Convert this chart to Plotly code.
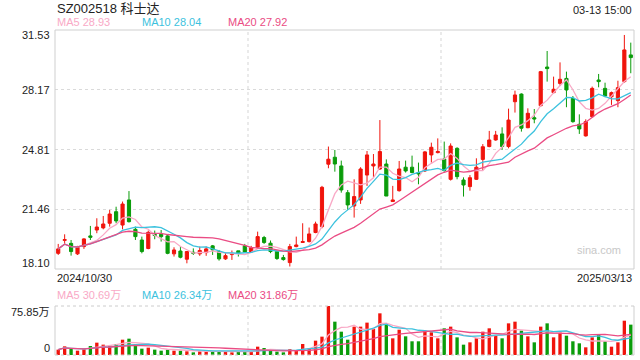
import pandas as pd
import plotly.graph_objects as go

# ---------------- data ----------------
holidays = ["2025-01-01", "2025-01-28", "2025-01-29", "2025-01-30",
            "2025-01-31", "2025-02-03", "2025-02-04"]
_days = pd.bdate_range("2024-10-30", "2025-03-13")
dates = [d.strftime("%Y/%m/%d") for d in _days if d.strftime("%Y-%m-%d") not in holidays]

opens = [18.98, 19.71, 19.54, 18.95, 19.36, 19.96, 20.29, 20.41, 20.67, 21.32,
         20.57, 21.98, 20.33, 19.73, 19.25, 20.05, 20.05, 19.96, 18.95, 19.11,
         18.65, 19.04, 18.95, 19.02, 19.40, 19.08, 18.67, 18.91, 19.12, 19.40,
         19.06, 19.32, 19.87, 19.55, 19.08, 18.74, 18.46, 19.36, 19.59, 19.64,
         20.15, 20.48, 23.99, 24.38, 23.89, 22.39, 21.64, 21.98, 23.38, 23.89,
         23.72, 24.00, 21.89, 22.50, 23.82, 23.82, 23.52, 23.61, 24.51, 24.64,
         24.28, 23.14, 24.88, 23.10, 22.73, 23.14, 24.26, 24.98, 25.35, 25.69,
         24.98, 27.50, 27.93, 26.04, 26.60, 27.28, 29.45, 28.01, 28.53, 28.81,
         27.69, 26.23, 25.58, 26.66, 28.72, 28.25, 27.78, 27.56, 28.63, 30.13]

closes = [19.23, 19.75, 19.08, 19.32, 19.79, 19.88, 20.46, 20.63, 21.19, 20.80,
          21.75, 20.76, 19.92, 19.08, 20.16, 19.98, 19.92, 18.98, 19.17, 18.76,
          19.08, 18.98, 19.14, 19.23, 19.17, 18.67, 18.85, 18.97, 18.99, 19.06,
          19.30, 19.92, 19.59, 19.08, 18.69, 18.63, 19.36, 19.45, 19.64, 20.07,
          20.63, 22.69, 24.27, 24.00, 22.54, 21.70, 22.17, 23.72, 24.51, 24.00,
          24.70, 22.20, 21.98, 23.72, 23.61, 23.52, 23.44, 24.68, 24.94, 24.70,
          23.63, 25.01, 23.29, 22.82, 23.23, 23.82, 24.97, 25.35, 25.63, 24.98,
          26.47, 27.88, 26.01, 26.85, 26.53, 29.19, 29.36, 28.20, 28.76, 28.16,
          26.38, 25.97, 26.38, 28.25, 28.63, 27.82, 28.01, 28.29, 30.41, 29.98]

highs = [19.51, 20.05, 19.73, 19.40, 19.83, 20.52, 20.95, 21.08, 21.42, 21.60,
         21.89, 22.48, 20.48, 19.92, 20.26, 20.26, 20.29, 20.01, 19.32, 19.36,
         19.11, 19.26, 19.36, 19.36, 19.45, 19.17, 19.02, 19.14, 19.12, 19.51,
         19.40, 20.20, 19.96, 19.70, 19.14, 18.89, 19.51, 19.92, 20.67, 20.43,
         20.76, 22.77, 24.98, 24.79, 24.19, 22.54, 23.14, 23.82, 24.73, 24.56,
         26.47, 24.26, 22.77, 24.17, 24.19, 24.47, 24.08, 24.73, 25.20, 25.44,
         25.26, 25.16, 24.94, 23.25, 23.38, 24.32, 25.12, 25.86, 25.86, 26.06,
         27.11, 28.12, 27.97, 27.13, 27.09, 29.23, 30.35, 28.91, 29.71, 29.19,
         27.82, 26.79, 26.51, 28.35, 29.06, 28.57, 28.07, 28.68, 31.25, 30.82]

lows = [18.89, 19.51, 18.85, 18.89, 19.23, 19.73, 20.11, 20.33, 20.48, 20.67,
        20.33, 20.71, 19.73, 18.98, 19.21, 19.77, 19.64, 18.93, 18.80, 18.70,
        18.42, 18.89, 18.84, 18.84, 18.89, 18.57, 18.61, 18.61, 18.80, 19.02,
        19.02, 19.27, 19.51, 18.99, 18.61, 18.57, 18.24, 19.32, 19.59, 19.59,
        20.11, 20.39, 23.76, 23.57, 22.39, 21.42, 20.99, 21.76, 22.77, 23.25,
        23.67, 22.20, 21.89, 22.45, 23.52, 23.48, 22.86, 23.55, 24.08, 24.60,
        23.57, 23.07, 23.14, 22.17, 22.50, 23.10, 23.66, 24.94, 25.31, 24.79,
        24.88, 26.89, 25.82, 26.01, 26.29, 27.22, 28.63, 27.97, 28.38, 27.19,
        26.32, 25.69, 25.54, 26.62, 28.31, 27.75, 27.32, 27.19, 28.57, 29.10]

# volume in 万 shares
volumes = [8.3, 13.4, 9.3, 6.7, 9.8, 13.9, 19.1, 16.0, 15.0, 17.0,
           23.7, 25.3, 15.0, 9.8, 11.4, 8.3, 6.7, 8.3, 6.7, 6.7,
           5.7, 4.1, 5.7, 6.7, 5.7, 6.2, 5.7, 4.1, 5.2, 5.7,
           5.7, 12.9, 10.8, 7.7, 5.2, 4.1, 9.3, 7.7, 17.0, 10.8,
           22.2, 28.4, 75.85, 51.6, 36.1, 23.7, 43.9, 43.9, 50.1, 40.2,
           64.5, 48.0, 25.8, 39.2, 28.9, 21.2, 21.2, 37.7, 35.1, 25.8,
           41.3, 43.9, 27.3, 16.0, 19.6, 25.8, 36.1, 41.3, 29.9, 25.8,
           49.0, 51.6, 37.7, 28.9, 19.6, 43.9, 49.0, 27.3, 35.1, 29.9,
           21.2, 18.1, 11.9, 27.3, 31.5, 21.2, 12.9, 19.6, 53.1, 47.0]

price_ticks = [18.10, 21.46, 24.81, 28.17, 31.53]
vol_ticks = [0, 75.85]
title_text = "SZ002518 科士达"
time_text = "03-13 15:00"
price_ma_labels = ["MA5 28.93", "MA10 28.04", "MA20 27.92"]
vol_ma_labels = ["MA5 30.69万", "MA10 26.34万", "MA20 31.86万"]

# ---------------- styling ----------------
RED = "#f0140c"
GREEN = "#0a9c0a"
MA_COLORS = ["#f9a9c6", "#3cc2de", "#ea4c84"]
FONT = "Liberation Sans, Arial, Noto Sans CJK SC, sans-serif"
W, H = 640, 360
L, R = 55, 634
MAIN_T, MAIN_B = 30, 269
VOL_T, VOL_B = 306, 355

close_s = pd.Series(closes)
vol_s = pd.Series(volumes)
price_mas = [close_s.rolling(n, min_periods=1).mean() for n in (5, 10, 20)]
vol_mas = [vol_s.rolling(n, min_periods=1).mean() for n in (5, 10, 20)]
vol_colors = [RED if c >= o else GREEN for o, c in zip(opens, closes)]

fig = go.Figure()
fig.add_trace(go.Candlestick(
    x=dates, open=opens, high=highs, low=lows, close=closes,
    increasing=dict(line=dict(color=RED, width=1), fillcolor=RED),
    decreasing=dict(line=dict(color=GREEN, width=1), fillcolor=GREEN),
    whiskerwidth=0, xaxis="x", yaxis="y", hoverinfo="skip"))
for ma, col in zip(price_mas, MA_COLORS):
    fig.add_trace(go.Scatter(x=dates, y=ma, mode="lines", xaxis="x", yaxis="y",
                             line=dict(color=col, width=1.3), hoverinfo="skip"))
fig.add_trace(go.Bar(x=dates, y=volumes, marker=dict(color=vol_colors, line=dict(width=0)),
                     xaxis="x", yaxis="y2", hoverinfo="skip"))
for ma, col in zip(vol_mas, MA_COLORS):
    fig.add_trace(go.Scatter(x=dates, y=ma, mode="lines", xaxis="x", yaxis="y2",
                             line=dict(color=col, width=1.3), hoverinfo="skip"))

n = len(dates)
fig.update_layout(
    width=W, height=H, margin=dict(l=0, r=0, t=0, b=0),
    paper_bgcolor="white", plot_bgcolor="white", showlegend=False,
    bargap=0.48,
    font=dict(family=FONT, size=11, color="#333333"),
    xaxis=dict(type="category", domain=[L / W, R / W], range=[-0.5, n - 0.5],
               showticklabels=False, showgrid=False, zeroline=False,
               rangeslider=dict(visible=False), anchor="y2", fixedrange=True),
    yaxis=dict(domain=[1 - MAIN_B / H, 1 - MAIN_T / H], range=[price_ticks[0], price_ticks[-1]],
               tickvals=price_ticks[1:-1], showticklabels=False, showgrid=True,
               gridcolor="#dadada", griddash="dot", gridwidth=1, zeroline=False,
               anchor="x", fixedrange=True),
    yaxis2=dict(domain=[1 - VOL_B / H, 1 - VOL_T / H], range=[vol_ticks[0], vol_ticks[-1]],
                showticklabels=False, showgrid=False, zeroline=False, anchor="x",
                fixedrange=True),
)

FRAME = "#cfcfcf"
shapes = [
    dict(type="rect", xref="x domain", yref="y domain", x0=0, x1=1, y0=0, y1=1,
         line=dict(color=FRAME, width=1)),
    dict(type="line", xref="x domain", yref="y2 domain", x0=0, x1=0, y0=0, y1=1,
         line=dict(color=FRAME, width=1)),
    dict(type="line", xref="x domain", yref="y2 domain", x0=1, x1=1, y0=0, y1=1,
         line=dict(color=FRAME, width=1)),
    dict(type="line", xref="x domain", yref="y2 domain", x0=0, x1=1, y0=1, y1=1,
         line=dict(color="#cccccc", width=1, dash="dot")),
    dict(type="line", xref="x domain", yref="y2 domain", x0=0, x1=1, y0=0, y1=0,
         line=dict(color="#cccccc", width=1, dash="dot")),
]
for xv in (n / 3 - 0.5, 2 * n / 3 - 0.5):
    for yr in ("y domain", "y2 domain"):
        shapes.append(dict(type="line", xref="x", yref=yr, x0=xv, x1=xv, y0=0, y1=1,
                           line=dict(color="#d5d5d5", width=1, dash="dot"), layer="below"))
fig.update_layout(shapes=shapes)

ann = []
# price axis labels (end labels kept inside the frame)
for i, v in enumerate(price_ticks):
    shift = 6 if i == 0 else (-5 if i == len(price_ticks) - 1 else 0)
    ann.append(dict(x=(L - 3) / W, xref="paper", y=v, yref="y", yshift=shift,
                    text=f"{v:.2f}", showarrow=False, xanchor="right", yanchor="middle",
                    font=dict(size=11, color="#222222")))
ann.append(dict(x=(L - 3) / W, xref="paper", y=vol_ticks[1], yref="y2", yshift=-6,
                text=f"{vol_ticks[1]:.2f}万", showarrow=False, xanchor="right", yanchor="middle",
                font=dict(size=11, color="#222222")))
ann.append(dict(x=(L - 3) / W, xref="paper", y=vol_ticks[0], yref="y2", yshift=7,
                text="0", showarrow=False, xanchor="right", yanchor="middle",
                font=dict(size=11, color="#222222")))
# title and time
ann.append(dict(x=L / W, xref="paper", y=1 - 8 / H, yref="paper", text=title_text,
                showarrow=False, xanchor="left", yanchor="middle",
                font=dict(size=13, color="#222222")))
ann.append(dict(x=R / W, xref="paper", y=1 - 10 / H, yref="paper", text=time_text,
                showarrow=False, xanchor="right", yanchor="middle",
                font=dict(size=11, color="#222222")))
# MA legends
for k, (txt, col) in enumerate(zip(price_ma_labels, MA_COLORS)):
    ann.append(dict(x=(L + 85.3 * k) / W, xref="paper", y=1 - 22 / H, yref="paper",
                    text=txt, showarrow=False, xanchor="left", yanchor="middle",
                    font=dict(size=11, color=col)))
for k, (txt, col) in enumerate(zip(vol_ma_labels, MA_COLORS)):
    ann.append(dict(x=(L + 85.3 * k) / W, xref="paper", y=1 - 295 / H, yref="paper",
                    text=txt, showarrow=False, xanchor="left", yanchor="middle",
                    font=dict(size=11, color=col)))
# date labels
ann.append(dict(x=L / W, xref="paper", y=1 - 277.5 / H, yref="paper", text=dates[0],
                showarrow=False, xanchor="left", yanchor="middle",
                font=dict(size=11, color="#222222")))
ann.append(dict(x=R / W, xref="paper", y=1 - 277.5 / H, yref="paper",
                text=dates[-1], showarrow=False, xanchor="right",
                yanchor="middle", font=dict(size=11, color="#222222")))
# watermark
ann.append(dict(x=623 / W, xref="paper", y=1 - 249.5 / H, yref="paper", text="sina.com",
                showarrow=False, xanchor="right", yanchor="middle",
                font=dict(size=11, color="#c8c8c8")))
fig.update_layout(annotations=ann)

fig.write_html("out.html", config={"displayModeBar": False},
               post_script="document.body.style.margin='0';document.body.style.padding='0';")
